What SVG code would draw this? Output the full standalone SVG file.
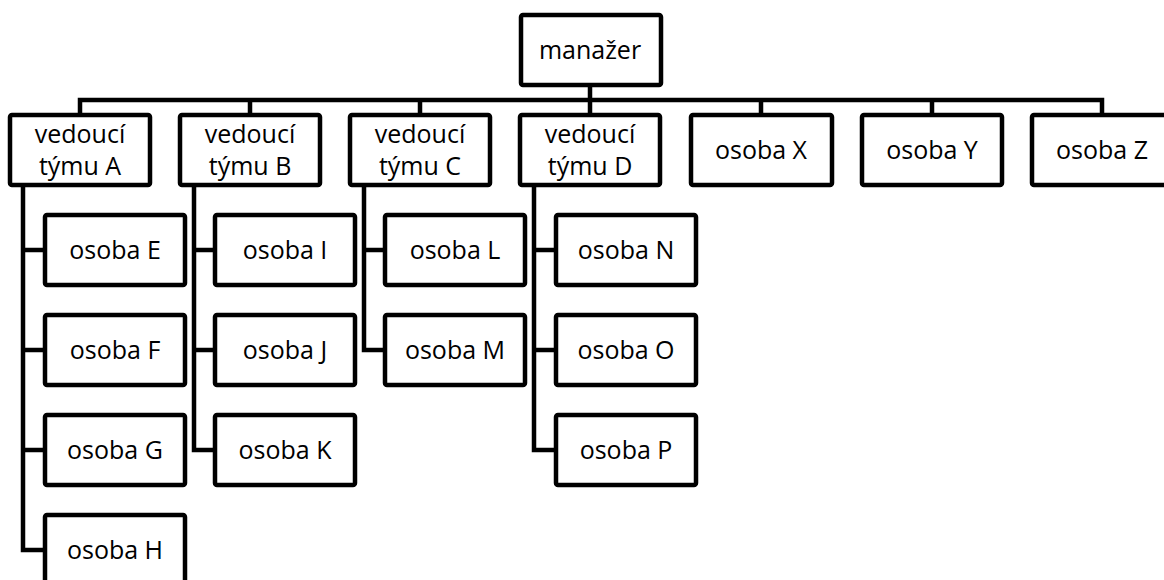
<svg xmlns="http://www.w3.org/2000/svg" width="1164" height="580" viewBox="0 0 1164 580">
<style>
.box{fill:#fff;stroke:#000;stroke-width:4.5}
.ln{fill:none;stroke:#000;stroke-width:4.5;stroke-linejoin:miter}
text{font-family:"Open Sans","Noto Sans","Liberation Sans",sans-serif;font-size:25px;fill:#000;text-anchor:middle}
</style>
<rect width="1164" height="580" fill="#fff"/>
<g id="connectors">
<path class="ln" d="M590,85 V100"/>
<path class="ln" d="M80,115 V100 H1102 V115"/>
<path class="ln" d="M250,100 V115 M420,100 V115 M590,100 V115 M761,100 V115 M932,100 V115"/>
<path class="ln" d="M23,185 V550 H45 M23,250 H45 M23,350 H45 M23,450 H45"/>
<path class="ln" d="M194,185 V450 H215 M194,250 H215 M194,350 H215"/>
<path class="ln" d="M364,185 V350 H385 M364,250 H385"/>
<path class="ln" d="M534,185 V450 H556 M534,250 H556 M534,350 H556"/>
</g>
<g id="manager"><rect class="box" x="521" y="15" width="140" height="70" rx="2"/><text x="590" y="59">manažer</text></g>
<g id="leadA"><rect class="box" x="10" y="115" width="140" height="70" rx="2"/><text x="80" y="143">vedoucí</text><text x="80" y="175">týmu A</text></g>
<g id="leadB"><rect class="box" x="180" y="115" width="140" height="70" rx="2"/><text x="250" y="143">vedoucí</text><text x="250" y="175">týmu B</text></g>
<g id="leadC"><rect class="box" x="350" y="115" width="140" height="70" rx="2"/><text x="420" y="143">vedoucí</text><text x="420" y="175">týmu C</text></g>
<g id="leadD"><rect class="box" x="520" y="115" width="140" height="70" rx="2"/><text x="590" y="143">vedoucí</text><text x="590" y="175">týmu D</text></g>
<g id="osobaX"><rect class="box" x="691" y="115" width="141" height="70" rx="2"/><text x="761" y="159">osoba X</text></g>
<g id="osobaY"><rect class="box" x="862" y="115" width="140" height="70" rx="2"/><text x="932" y="159">osoba Y</text></g>
<g id="osobaZ"><rect class="box" x="1032" y="115" width="140" height="70" rx="2"/><text x="1102" y="159">osoba Z</text></g>
<g id="osobaE"><rect class="box" x="45" y="215" width="140" height="70" rx="2"/><text x="115" y="259">osoba E</text></g>
<g id="osobaF"><rect class="box" x="45" y="315" width="140" height="70" rx="2"/><text x="115" y="359">osoba F</text></g>
<g id="osobaG"><rect class="box" x="45" y="415" width="140" height="70" rx="2"/><text x="115" y="459">osoba G</text></g>
<g id="osobaH"><rect class="box" x="45" y="515" width="140" height="70" rx="2"/><text x="115" y="559">osoba H</text></g>
<g id="osobaI"><rect class="box" x="215" y="215" width="140" height="70" rx="2"/><text x="285" y="259">osoba I</text></g>
<g id="osobaJ"><rect class="box" x="215" y="315" width="140" height="70" rx="2"/><text x="285" y="359">osoba J</text></g>
<g id="osobaK"><rect class="box" x="215" y="415" width="140" height="70" rx="2"/><text x="285" y="459">osoba K</text></g>
<g id="osobaL"><rect class="box" x="385" y="215" width="140" height="70" rx="2"/><text x="455" y="259">osoba L</text></g>
<g id="osobaM"><rect class="box" x="385" y="315" width="140" height="70" rx="2"/><text x="455" y="359">osoba M</text></g>
<g id="osobaN"><rect class="box" x="556" y="215" width="140" height="70" rx="2"/><text x="626" y="259">osoba N</text></g>
<g id="osobaO"><rect class="box" x="556" y="315" width="140" height="70" rx="2"/><text x="626" y="359">osoba O</text></g>
<g id="osobaP"><rect class="box" x="556" y="415" width="140" height="70" rx="2"/><text x="626" y="459">osoba P</text></g>
</svg>
